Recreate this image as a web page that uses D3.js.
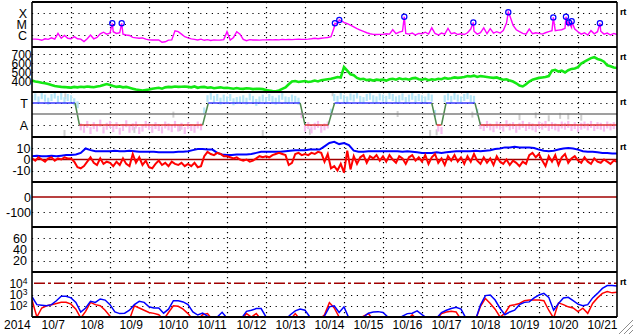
<!DOCTYPE html>
<html><head><meta charset="utf-8">
<script src="https://cdn.jsdelivr.net/npm/d3@7/dist/d3.min.js"></script>
<style>html,body{margin:0;padding:0;background:#fff;overflow:hidden}svg{display:block;font-family:"Liberation Sans",Arial,Helvetica,sans-serif}</style>
</head><body><svg id="c" width="633" height="334"></svg>
<script>
// ---------- DATA (time = hours since 2014-10-07 00:00) ----------
const dayLabels = ["10/7","10/8","10/9","10/10","10/11","10/12","10/13","10/14","10/15","10/16","10/17","10/18","10/19","10/20","10/21"];
const yearLabel = "2014";

// X-ray flux, units of 1e-6 W/m2 (C1 = 1), every 2 h
const xray = [0.42,0.42,0.40,0.33,0.45,0.40,0.55,0.42,1.4,0.5,0.9,0.5,
0.45,0.7,0.45,0.42,0.25,0.45,1.0,0.45,0.6,1.3,1.8,1.2,
1.5,2.0,1.4,1.6,1.2,1.0,0.9,0.6,0.55,0.5,0.55,0.42,
0.36,0.35,0.35,0.35,0.22,0.24,0.34,0.36,2.4,2.0,1.2,0.7,
0.55,0.45,0.4,0.35,0.42,0.33,0.38,0.32,0.36,0.34,0.35,0.38,
2.0,0.35,0.6,2.0,1.2,0.4,0.3,0.38,0.35,0.35,0.34,0.36,
0.36,0.37,0.36,0.38,0.36,0.40,0.38,0.40,0.38,0.40,0.42,0.40,
0.40,0.42,0.45,0.50,0.45,0.5,0.55,0.6,0.7,5.0,10,20,
14,11,8,5.5,3.8,2.8,2.1,1.6,1.3,1.15,1.1,1.15,
1.15,1.3,1.2,3.0,1.3,1.8,2.2,1.4,1.2,1.5,1.0,1.4,
1.3,1.8,1.2,4.5,1.4,1.0,1.5,1.2,4.0,1.3,1.6,1.1,
1.3,1.1,1.6,3.5,2.2,1.2,1.6,4.5,1.3,3.8,1.5,2.0,
1.5,2.5,12,60,8,3.0,2.0,1.4,1.2,3.5,1.3,1.6,
1.4,1.2,1.6,2.0,2.5,2.5,2.8,3.0,4.0,6,5.0,3.5,
2.0,1.2,1.6,1.0,2.5,1.3,2.0,2.2,1.2,1.5,1.0,1.4,1.1];
const flareHours = [49.4,55.2,186.4,189.1,229.1,271.6,293.1,320.8,328.6,330.4,332.1,349.5];
const flarePeaks = [11.6,11.6,11.6,23,46,14,116,40,46,14,17.6,11.6];
const xrayTickVals = [100,10,1];
const xrayTickLabels = ["X","M","C"];

// Solar wind speed km/s, every 2 h
const speed = [410,400,395,385,380,372,360,350,345,340,338,335,
332,340,335,342,338,345,340,336,345,350,362,372,
362,350,340,345,335,340,330,320,310,305,300,305,
310,320,325,330,320,335,340,338,345,340,342,345,
340,335,345,330,338,340,330,335,325,330,335,328,
330,325,320,328,320,318,325,322,315,320,318,315,
305,300,295,292,300,318,335,370,400,405,395,400,
405,395,400,410,400,415,420,425,430,440,450,445,
560,520,480,470,440,425,430,415,420,410,420,415,
420,410,425,430,420,435,425,430,420,435,440,425,
420,430,415,425,420,430,425,440,430,435,445,440,
445,450,460,455,465,450,460,455,450,445,440,445,
430,420,425,410,400,380,355,345,370,400,420,430,
440,445,450,460,520,530,510,520,500,525,540,545,
560,600,620,640,660,670,650,640,620,580,570,555,550];
const speedTicks = [700,600,500,400];

// IMF sector: boundary times and polarity; phi angle samples every 2 h
const sectorHours = [0,26.5,29.2,105,108.5,165,168,182.3,186.2,246,249,252,254.8,272.6,276,360];
const sectorPolarity = ["T","T","A","A","T","T","A","A","T","T","A","A","T","T","A","A"];
const phi = [350,365,340,375,355,330,360,380,345,370,335,360,350,325,
300,
120,100,140,90,130,110,150,95,125,140,105,130,85,115,145,100,120,135,90,110,140,125,100,130,115,95,135,120,105,140,110,125,90,130,115,100,135,120,
250,
350,370,345,360,330,355,340,360,325,335,340,350,330,365,345,320,340,355,335,360,345,330,350,370,340,335,355,345,330,
220,
110,130,95,125,140,100,120,135,
240,
360,345,375,350,340,365,355,380,345,335,360,370,350,340,365,355,345,375,360,340,350,365,335,355,370,345,360,350,340,365,355,
230,
110,90,
350,365,345,370,355,340,360,375,350,345,
240,
130,115,140,120,105,135,125,110,145,120,130,100,125,140,115,130,120,105,135,125,140,115,130,120,110,135,125,140,115,130,105,125,135,120,140,115,130,125,110,135,120,130,125];
const greyHours = [20,20.5,28,63,87,91,142,171,185,225,245,249,271,300,310,318,325,330,338];
const greyPhi = [70,370,300,95,220,110,70,80,395,225,70,75,220,200,215,190,210,205,195];
const sectorTickVals = [315,135];
const sectorTickLabels = ["T","A"];

// IMF Bz (every 2 h) and Bt (every 3 h), nT
const bz = [1,-1,2,0,-2,1,2,-1,1,0,2,1,
1,-2,-7,-8,-6,-2,2,-3,-5,1,-4,-2,
-3,-6,-2,-5,1,-4,-6,5,-3,2,-5,-1,
-7,-8,-4,-1,-5,-3,-6,-2,-4,-5,-3,-6,
-4,-6,-3,-7,-6,3,7,5,4,6,5,3,
3,2,1,2,0,-1,0,-2,-1,1,3,2,
3,2,4,5,6,5,4,-5,-3,5,6,4,
5,4,6,5,7,6,-2,5,-8,-6,-10,-4,
-12,8,-9,3,-4,2,4,-3,3,1,4,-1,
3,-2,4,0,-3,3,1,-4,2,4,-1,2,
-2,4,-4,2,5,-3,1,-5,3,-1,4,-2,
2,-4,3,-2,5,-1,-4,2,-3,1,-5,3,
-2,-4,0,-5,-1,-3,-6,-2,-4,4,6,2,
5,-1,-6,3,-2,4,-5,2,5,-3,1,3,
-1,-3,2,-2,-4,1,-2,-3,0,-2,-4,-1,-2];
const bt = [3,3.5,3,3,3.5,3,3.5,4,
4,4.5,6,10,8.5,7.5,7.5,7.5,
7.5,8,7.5,7.5,8,7.5,7,7,
7,7,6.5,6.5,6.5,6.5,7,7,
7.5,8.5,9.5,9.5,9,9,6,4.5,
4,4,4.5,4.5,4.5,5,6,7,
7,7,7,7,7.5,8,8.5,8.5,
8.5,9,9,9,12,15,16,14,
15,13,8,7,7,7.5,7.5,7.5,
7.5,7.5,7.5,7.5,7,7.5,7,6.5,
6,6,6,6.5,6,6.5,7,7.5,
7.5,7.5,7.5,8,7.5,8,8.5,9.5,
10,11,11,11.5,11,11,11,10.5,
9,8,7.5,8,9,10,10.5,10,
9,7.5,7,7,6.5,6,6,5.5,5.5];
const bTicks = [10,0,-10];

// Dst and Kp-type panels (no data in this period)
const dstTicks = [0,-100];
const panel6Ticks = [60,40,20];

// Electron flux (every 3 h)
const eBlue = [630,125,112,100,125,280,710,700,500,200,
28,63,250,200,400,320,125,28,20,22,
40,125,250,200,80,63,63,22,50,280,
280,220,125,28,15,22,12,8,10,26,
8,6,6,8,32,40,56,56,10,6,
6,6,6,16,35,50,40,10,6,6,
12,80,100,25,80,8,6,6,10,22,
28,30,25,10,6,6,12,20,22,35,
16,8,6,8,25,40,56,72,50,8,
6,6,120,800,900,320,60,16,28,40,
125,200,220,500,900,1250,560,40,160,500,
560,280,140,100,125,500,1250,3500,6300,6300,
5600];
const eRed = [320,10,63,100,125,160,200,200,140,50,
8,32,200,125,100,40,12,6,6,6,
6,100,63,40,25,21,16,6,25,100,
90,50,20,6,6,16,20,6,6,6,
6,6,6,6,20,10,20,6,6,6,
6,6,6,6,20,6,6,6,6,6,
16,190,63,10,6,6,6,6,12,20,
6,6,6,6,6,6,6,6,16,6,
6,6,6,6,20,28,32,28,6,6,
6,6,90,450,160,50,10,21,100,125,
160,280,320,320,320,280,40,8,180,125,
80,63,30,60,21,160,500,1250,1800,1400,
1600];
const eTickVals = [1e4,1e3,1e2];
const eTickExp = ["4","3","2"];
const eThreshold = 1e4;

// ---------- LAYOUT ----------
const svg = d3.select("#c");
const L = 32, R = 617;
const tops = [2,47,92,137,182,227,272], PH = 45;
const x = d3.scaleLinear().domain([0,360]).range([L,R]);
const FONT = 12.5;

svg.append("rect").attr("width",633).attr("height",334).attr("fill","#fff");

const yX = d3.scaleLog().domain([Math.pow(10,-12/11),1000]).range([tops[0]+PH,tops[0]]);
const yV = d3.scaleLinear().domain([283.3,783.3]).range([tops[1]+PH,tops[1]]);
const yP = d3.scaleLinear().domain([37,405]).range([tops[2]+PH,tops[2]]);
const yB = d3.scaleLinear().domain([-20.45,20.45]).range([tops[3]+PH,tops[3]]);
const yD = d3.scaleLinear().domain([-200,100]).range([tops[4]+PH,tops[4]]);
const yK = d3.scaleLinear().domain([0,80]).range([tops[5]+PH,tops[5]]);
const yE = d3.scaleLog().domain([10,1e5]).range([tops[6]+PH,tops[6]]);

// clip paths
const defs = svg.append("defs");
tops.forEach((t,k)=>{
  defs.append("clipPath").attr("id","cp"+k).append("rect").attr("x",L).attr("y",t).attr("width",R-L).attr("height",PH);
});

// gridlines
const grid = svg.append("g");
function hgrid(scale, vals){
  grid.selectAll(null).data(vals).enter().append("line")
    .attr("x1",L).attr("x2",R).attr("y1",d=>Math.round(scale(d))+0.5).attr("y2",d=>Math.round(scale(d))+0.5)
    .attr("stroke","#000").attr("stroke-width",1.2).attr("stroke-dasharray","1.2,4.6");
}
hgrid(yX, xrayTickVals);
hgrid(yV, speedTicks);
hgrid(yP, sectorTickVals);
hgrid(yB, [10,-10]);
hgrid(yD, [-100]);
hgrid(yK, panel6Ticks);
hgrid(yE, [1e3,1e2]);
const dayStarts = d3.range(1,15).map(d=>d*24);
grid.selectAll(null).data(dayStarts).enter().append("line")
  .attr("x1",d=>Math.round(x(d))+0.5).attr("x2",d=>Math.round(x(d))+0.5).attr("y1",tops[0]).attr("y2",tops[6]+PH)
  .attr("stroke","#000").attr("stroke-width",1.2).attr("stroke-dasharray","1.2,3.8");

// reference lines
[[yB,0],[yD,0]].forEach(([s,v])=>svg.append("line").attr("x1",L).attr("x2",R).attr("y1",s(v)).attr("y2",s(v)).attr("stroke","#a00000").attr("stroke-width",1.5));
svg.append("line").attr("x1",L+2).attr("x2",R).attr("y1",yE(eThreshold)).attr("y2",yE(eThreshold))
  .attr("stroke","#a00000").attr("stroke-width",1.5).attr("stroke-dasharray","11,3,3,3");

// ---------- PANEL 1: X-ray ----------
const xrPts = xray.map((v,i)=>({h:i*2,v:v})).concat(flareHours.map((h,i)=>({h:h,v:flarePeaks[i]}))).sort((a,b)=>a.h-b.h);
const g1 = svg.append("g").attr("clip-path","url(#cp0)");
g1.append("path").datum(xrPts).attr("fill","none").attr("stroke","#ff00ff").attr("stroke-width",1.4)
  .attr("d",d3.line().x(d=>x(d.h)).y(d=>yX(d.v)));
g1.selectAll("circle").data(flareHours).enter().append("circle")
  .attr("cx",d=>x(d)).attr("cy",(d,i)=>yX(flarePeaks[i])).attr("r",2.6)
  .attr("fill","none").attr("stroke","#0000ff").attr("stroke-width",1.2);

// ---------- PANEL 2: speed ----------
svg.append("g").attr("clip-path","url(#cp1)").append("path").datum(speed)
  .attr("fill","none").attr("stroke","#14e814").attr("stroke-width",2.6)
  .attr("d",d3.line().x((d,i)=>x(i*2)).y(d=>yV(d)));

// ---------- PANEL 3: sector ----------
const g3 = svg.append("g").attr("clip-path","url(#cp2)");
g3.selectAll("rect.g").data(greyHours).enter().append("rect")
  .attr("x",d=>x(d)-1).attr("y",(d,i)=>yP(greyPhi[i])-3).attr("width",2).attr("height",6).attr("fill","#cfcfcf");
g3.selectAll("rect.p").data(phi).enter().append("rect")
  .attr("x",(d,i)=>x(i*2)-1.1).attr("y",d=>yP(d)-3.5).attr("width",2.2).attr("height",7)
  .attr("fill",d=>d>225?"#b4e4f6":"#f6bdef");
svg.append("line").attr("x1",L).attr("x2",R).attr("y1",yP(225)).attr("y2",yP(225)).attr("stroke","#7f7f7f").attr("stroke-width",1.5);
const polAngle = p => p==="T"?315:135;
const segs = d3.range(sectorHours.length-1).map(k=>({h0:sectorHours[k],h1:sectorHours[k+1],p0:sectorPolarity[k],p1:sectorPolarity[k+1]}));
g3.selectAll("line.s").data(segs).enter().append("line")
  .attr("x1",d=>x(d.h0)).attr("x2",d=>x(d.h1)).attr("y1",d=>yP(polAngle(d.p0))).attr("y2",d=>yP(polAngle(d.p1)))
  .attr("stroke",d=>d.p0!==d.p1?"#4f8a4f":(d.p0==="T"?"#3a3aff":"#e03232")).attr("stroke-width",1.5);

// ---------- PANEL 4: Bt / Bz ----------
const g4 = svg.append("g").attr("clip-path","url(#cp3)");
g4.append("path").datum(bt).attr("fill","none").attr("stroke","#0000ff").attr("stroke-width",2)
  .attr("d",d3.line().x((d,i)=>x(i*3)).y(d=>yB(d)));
g4.append("path").datum(bz).attr("fill","none").attr("stroke","#ff0000").attr("stroke-width",2)
  .attr("d",d3.line().x((d,i)=>x(i*2)).y(d=>yB(d)));

// ---------- PANEL 7: electrons ----------
const g7 = svg.append("g").attr("clip-path","url(#cp6)");
g7.append("path").datum(eRed).attr("fill","none").attr("stroke","#ff0000").attr("stroke-width",1.5)
  .attr("d",d3.line().x((d,i)=>x(i*3)).y(d=>yE(d)));
g7.append("path").datum(eBlue).attr("fill","none").attr("stroke","#0000ff").attr("stroke-width",1.5)
  .attr("d",d3.line().x((d,i)=>x(i*3)).y(d=>yE(d)));

// ---------- FRAME ----------
const frame = svg.append("g").attr("stroke","#000");
frame.selectAll("line.h").data(tops.concat([tops[6]+PH])).enter().append("line")
  .attr("x1",L).attr("x2",R).attr("y1",d=>d).attr("y2",d=>d).attr("stroke-width",2);
frame.append("line").attr("x1",L).attr("x2",L).attr("y1",tops[0]).attr("y2",tops[6]+PH).attr("stroke-width",1.6);
frame.append("line").attr("x1",R).attr("x2",R).attr("y1",tops[0]).attr("y2",tops[6]+PH).attr("stroke-width",1.6);

// ---------- AXES / LABELS ----------
function leftAxis(scale, vals, labels, pad, fs){
  const ax = d3.axisLeft(scale).tickValues(vals).tickSize(0).tickPadding(pad)
    .tickFormat((d,i)=>labels?labels[i]:String(d));
  const g = svg.append("g").attr("transform",`translate(${L},0)`).call(ax);
  g.select(".domain").remove();
  g.attr("font-size",fs||FONT).attr("font-family",null);
  g.selectAll("text").attr("fill","#000");
  return g;
}
leftAxis(yX, xrayTickVals, xrayTickLabels, 5);
leftAxis(yV, speedTicks, null, 0.5, 12);
leftAxis(yP, sectorTickVals, sectorTickLabels, 4);
leftAxis(yB, bTicks, null, 1.5);
leftAxis(yD, dstTicks, null, 1);
leftAxis(yK, panel6Ticks, null, 5);
const eAx = leftAxis(yE, eTickVals, eTickVals.map(()=>""), 4.5, 12);
eAx.selectAll("text").each(function(d,i){
  const t = d3.select(this);
  t.append("tspan").text("10");
  t.append("tspan").attr("dy","-3.6").attr("font-size",8.5).text(eTickExp[i]);
});

// rt labels
const rtPanels = [0,1,2,3,6];
svg.selectAll("text.rt").data(rtPanels).enter().append("text")
  .attr("x",620).attr("y",d=>tops[d]+12.5).attr("font-size",9.5).attr("font-weight","bold").attr("letter-spacing","-0.5").text("rt");

// date labels
svg.selectAll("text.day").data(dayLabels).enter().append("text")
  .attr("x",(d,i)=>x(i*24)+9.5).attr("y",328.5).attr("font-size",12).text(d=>d);
svg.append("text").attr("x",4).attr("y",328.5).attr("font-size",12).text(yearLabel);

// resize grip
const grip = svg.append("g");
[0,5,10].forEach(o=>{
  grip.append("line").attr("x1",633).attr("y1",320+o).attr("x2",619+o).attr("y2",334).attr("stroke","#8c8c8c").attr("stroke-width",1);
  grip.append("line").attr("x1",633).attr("y1",321+o).attr("x2",620+o).attr("y2",334).attr("stroke","#ffffff").attr("stroke-width",1);
});
</script>
</body></html>
